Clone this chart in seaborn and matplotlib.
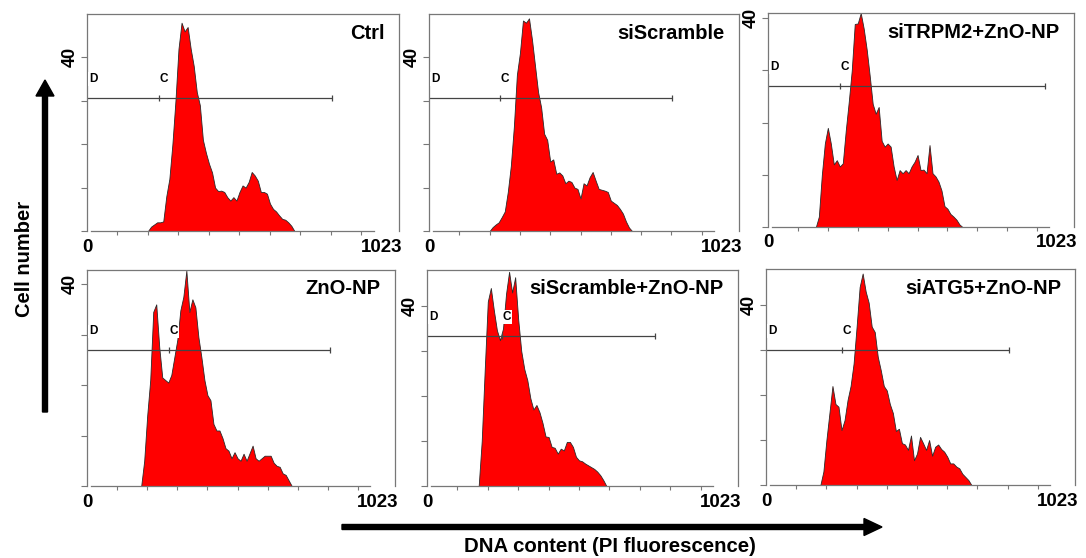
import numpy as np
import matplotlib.pyplot as plt
import seaborn as sns
from matplotlib.patches import FancyArrow

sns.set_style('ticks')
plt.rcParams['font.family'] = ['Liberation Sans', 'DejaVu Sans']
plt.rcParams['text.color'] = 'black'
plt.rcParams['ytick.labelcolor'] = 'black'

# PI histograms, 10-channel bins, first bin centre given in *_start
ctrl_start = 200
ctrl = [0, 1, 1.5, 2, 2, 2.2, 8, 12, 20, 30, 42, 48, 46, 47, 42, 38, 32, 29, 21, 18,
        15.5, 13.5, 10, 9.2, 9.3, 9, 7.8, 7, 7.8, 7, 9, 10.5, 10, 11.3, 13.6, 12.8,
        11.6, 9, 9, 8.6, 6.3, 5.1, 4.5, 3.6, 2.8, 2.6, 2, 1.2, 0]

siscr_start = 200
siscr = [0, 0.9, 1.5, 2, 3.2, 4.5, 9, 15, 24, 36, 41, 48.5, 48, 49, 44, 38, 32, 28.5,
         22.4, 21, 16, 16.5, 13.2, 13.5, 12.8, 11, 11.6, 11.3, 10, 9.7, 7.5, 11, 10.5,
         12.4, 13.6, 11.6, 9.7, 9.5, 9.3, 9, 7, 6.5, 6, 5.1, 4, 2.2, 0.8, 0, 0]

sitrpm_start = 160
sitrpm = [0, 2, 10, 16, 19, 16, 12, 12.8, 11.6, 12.2, 18.5, 24, 30, 38.9, 39, 41, 38,
          34, 29, 23.6, 21.7, 23, 16.5, 15.4, 16, 15.4, 11.6, 9, 10.9, 10.3, 10.9, 10.3,
          11.6, 12.5, 13.8, 10.9, 11, 10.3, 15.7, 10.3, 9.7, 8.7, 7, 4, 3.5, 2.5, 2,
          1.4, 0.5, 0]

zno_start = 180
zno = [0, 5, 14, 21, 34.5, 36, 27.5, 21.5, 21, 20.5, 22, 25.5, 29, 34.8, 37.5, 42.7,
       34.5, 37, 35.4, 29.5, 25.5, 21, 18, 17, 12.3, 11, 11, 9.5, 7.5, 7, 5.5, 6.7,
       5.5, 5, 6.4, 5, 6.5, 8, 5.5, 5, 5.5, 6, 6, 6, 4.6, 4, 3.8, 2.5, 2.2, 1.1, 0]

siscr_zno_start = 170
siscr_zno = [0, 10, 26, 41, 44, 39, 34.6, 32.4, 35, 42.7, 47.6, 43, 46.4, 37, 30, 26,
             23.5, 19.5, 17, 18, 16.4, 14, 11, 10.9, 8.7, 8.5, 7.2, 8.3, 7.9, 9.8, 9.8,
             8.7, 6.5, 5.7, 5.5, 5, 4.6, 4.2, 3.8, 3.2, 2.4, 1.3, 0]

siatg_start = 180
siatg = [0, 3, 10, 16, 22, 18, 17.4, 12.2, 14.4, 18.9, 22, 27, 35.2, 44, 47, 43, 40.5,
         35.2, 34, 28.5, 25.5, 22, 21, 18, 16, 12, 12.5, 9.3, 9, 7.8, 11, 5.5, 7, 10.7,
         9.3, 7.8, 10, 6.5, 8.5, 9, 8, 7.4, 6.3, 4.8, 4.8, 4.1, 3.7, 2.5, 1.8, 1.1, 0]

titles = ['Ctrl', 'siScramble', 'siTRPM2+ZnO-NP',
          'ZnO-NP', 'siScramble+ZnO-NP', 'siATG5+ZnO-NP']
hists = [ctrl, siscr, sitrpm, zno, siscr_zno, siatg]
starts = [ctrl_start, siscr_start, sitrpm_start, zno_start, siscr_zno_start, siatg_start]
y_max = [50, 50, 41, 42.8, 48, 48]
# gate marker: level, C channel, end channel
gate_y = [30.6, 30.6, 27, 26.9, 33.3, 30]
gate_c = [236, 234, 241, 272, 247, 252]
gate_end = [803, 802, 926, 807, 750, 804]

W, H = 1086, 558
# panel boxes in pixels: left, top, right, bottom
boxes = [(87, 14, 399, 231), (429, 14, 739, 231), (768, 13, 1074, 227),
         (87, 270, 395, 486), (427, 270, 738, 486), (766, 269, 1075, 485)]

fig = plt.figure(figsize=(W / 100, H / 100), dpi=100)

for i in range(6):
    l, t, r, b = boxes[i]
    ax = fig.add_axes([l / W, 1 - b / H, (r - l) / W, (b - t) / H])
    counts = np.array(hists[i])
    ch = starts[i] + 10 * np.arange(len(counts))
    sns.histplot(x=ch, weights=counts, binwidth=10,
                 binrange=(starts[i] - 5, ch[-1] + 5), element='poly',
                 fill=True, color='#ff0000', alpha=1, edgecolor='#2a2a2a',
                 linewidth=0.6, ax=ax)
    ax.set_xlim(0, 1023)
    ax.set_ylim(0, y_max[i])
    ax.set_xlabel('')
    ax.set_ylabel('')

    for s in ax.spines.values():
        s.set_color('#777777')
        s.set_linewidth(0.9)
    ax.spines['bottom'].set_bounds(14, 940)

    ax.set_xticks(range(100, 1000, 100))
    ax.tick_params(axis='x', length=3, width=0.8, color='#777777', labelbottom=False)
    ax.set_yticks([0, 10, 20, 30, 40])
    ax.set_yticklabels(['', '', '', '', '40'], rotation=90, va='center',
                       fontweight='bold', fontsize=13)
    ax.tick_params(axis='y', length=4, width=0.8, color='#777777', pad=2)

    ax.text(0, -0.035, '0', transform=ax.transAxes, ha='center', va='top',
            fontsize=13.5, fontweight='bold')
    ax.text(1.01, -0.035, '1023', transform=ax.transAxes, ha='right', va='top',
            fontsize=13.5, fontweight='bold')

    ax.annotate(titles[i], xy=(1, 1), xycoords='axes fraction',
                xytext=(-14, -19), textcoords='offset pixels',
                ha='right', va='center', fontsize=14.5, fontweight='bold')

    # marker gate
    ax.plot([0, gate_end[i]], [gate_y[i], gate_y[i]], color='#444444', lw=0.9)
    ax.plot([gate_c[i], gate_end[i]], [gate_y[i], gate_y[i]], ls='none',
            marker='|', ms=5, mew=0.9, color='#444444')
    ax.annotate('D', xy=(0, gate_y[i]), xytext=(2, 19), textcoords='offset pixels',
                ha='left', va='center', fontsize=8.5, fontweight='bold', color='black',
                bbox=dict(facecolor='white', edgecolor='none', pad=0.5))
    ax.annotate('C', xy=(gate_c[i], gate_y[i]), xytext=(5, 19), textcoords='offset pixels',
                ha='center', va='center', fontsize=8.5, fontweight='bold', color='black',
                bbox=dict(facecolor='white', edgecolor='none', pad=0.5))

# axis arrows, drawn in inches from bottom-left
fig.add_artist(FancyArrow(0.45, (H - 412) / 100, 0, 3.32, width=0.05,
                          head_width=0.18, head_length=0.16,
                          length_includes_head=True, color='black',
                          transform=fig.dpi_scale_trans))
fig.add_artist(FancyArrow(3.42, (H - 527) / 100, 5.40, 0, width=0.05,
                          head_width=0.17, head_length=0.18,
                          length_includes_head=True, color='black',
                          transform=fig.dpi_scale_trans))
fig.text(25 / W, 1 - 259 / H, 'Cell number', rotation=90, ha='center', va='center',
         fontsize=14.5, fontweight='bold')
fig.text(610 / W, 1 - 547 / H, 'DNA content (PI fluorescence)', ha='center',
         va='center', fontsize=14.7, fontweight='bold')

fig.savefig('out.png', dpi=100)
